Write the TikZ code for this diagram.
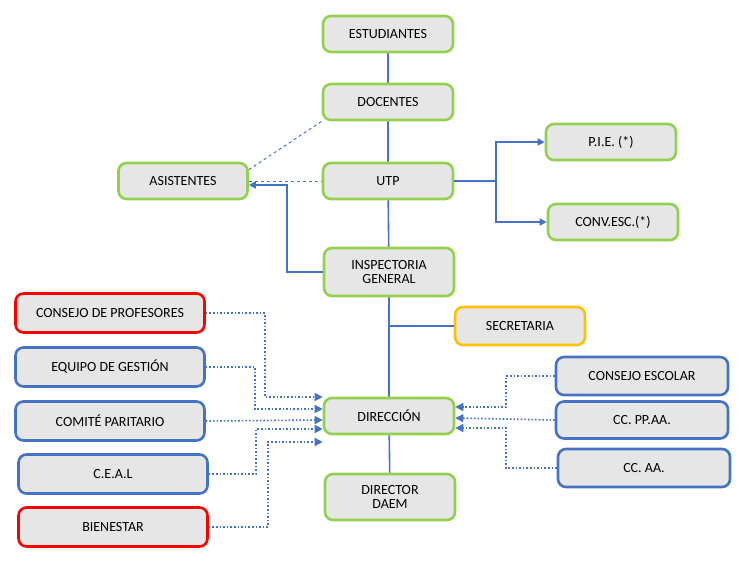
\documentclass[tikz,border=0pt]{standalone}
\usepackage{fontspec}
\setmainfont{Carlito}
\usetikzlibrary{positioning,arrows.meta}
\definecolor{bxgreen}{RGB}{146,208,80}
\definecolor{bxblue}{RGB}{68,114,196}
\definecolor{bxred}{RGB}{255,0,0}
\definecolor{bxgold}{RGB}{255,192,0}
\definecolor{bxfill}{RGB}{231,230,230}
\begin{document}
\begin{tikzpicture}[x=1pt,y=-1pt,
  box/.style={draw, line width=2.6pt, fill=bxfill, rounded corners=8pt, minimum width=130pt, minimum height=36pt, align=center, font=\fontsize{14}{14}\selectfont, inner sep=1pt},
  gbox/.style={box, draw=bxgreen},
  bbox/.style={box, draw=bxblue, minimum width=189pt, minimum height=39pt},
  rbox/.style={box, draw=bxred, minimum width=189pt, minimum height=39pt},
  link/.style={bxblue, line width=1.6pt},
  dlink/.style={bxblue, line width=1.6pt, dotted, -{Triangle[width=8pt,length=8pt]}}]
\useasboundingbox (0,0) rectangle (747,560);

% main column
\node[gbox] (est) at (388,34) {ESTUDIANTES};
\node[gbox] (doc) at (388,102) {DOCENTES};
\node[gbox] (utp) at (388,181) {UTP};
\node[gbox, minimum height=48pt] (insp) at (389,272) {INSPECTORIA\\GENERAL};
\node[gbox] (dir) at (389,416) {DIRECCIÓN};
\node[gbox, minimum height=46pt] (daem) at (390,497) {DIRECTOR\\DAEM};
\node[gbox, minimum width=129pt] (asis) at (183,181) {ASISTENTES};
\node[gbox] (pie) at (611,142) {P.I.E. (*)};
\node[gbox] (conv) at (613,222) {CONV.ESC.(*)};
\node[box, draw=bxgold, minimum height=38pt] (secr) at (520,326) {SECRETARIA};

% left boxes
\node[rbox] (cprof) at (110,313) {CONSEJO DE PROFESORES};
\node[bbox] (equipo) at (110,367) {EQUIPO DE GESTIÓN};
\node[bbox] (comite) at (110,421) {COMITÉ PARITARIO};
\node[bbox] (ceal) at (113,474) {C.E.A.L};
\node[rbox] (bien) at (113,527) {BIENESTAR};

% right boxes
\node[bbox, minimum width=172pt, minimum height=38pt] (cesc) at (642,376) {CONSEJO ESCOLAR};
\node[bbox, minimum width=172pt, minimum height=37pt] (ccpp) at (642,420) {CC. PP.AA.};
\node[bbox, minimum width=172pt, minimum height=38pt] (ccaa) at (644,468) {CC. AA.};

% vertical spine
\draw[link] (est) -- (doc) -- (utp) -- (insp) -- (dir) -- (daem);
\coordinate (sj) at (insp.south |- secr.west);
\draw[link] (sj) -- (secr.west);

% utp branches
\coordinate (ub) at (496,181);
\draw[link] (utp.east) -- (ub);
\draw[link, -{Triangle[width=7pt,length=7pt]}] (ub) |- (pie.west);
\draw[link, -{Triangle[width=7pt,length=7pt]}] (ub) |- (conv.west);
\draw[link, -{Triangle[width=7pt,length=7pt]}] (insp.west) -| (287,185) -- (asis.east |- 0,185);
\draw[link, dashed, line width=1pt] (asis.north east) ++(0,8) -- (doc.south west);
\draw[link, dashed, line width=1pt] (asis.east) -- (utp.west);

% left dotted connectors
\draw[dlink] (cprof.east) -| (265,397) -- (dir.west |- 0,397);
\draw[dlink] (equipo.east) -| (255,409) -- (dir.west |- 0,409);
\draw[dlink] (comite.east) -- (dir.west |- 0,420);
\draw[dlink] (ceal.east) -| (256,429) -- (dir.west |- 0,429);
\draw[dlink] (bien.east) -| (268,442) -- (dir.west |- 0,442);

% right dotted connectors
\draw[dlink] (cesc.west) -| (506,407) -- (dir.east |- 0,407);
\draw[dlink] (ccpp.west) -- (dir.east |- 0,418);
\draw[dlink] (ccaa.west) -| (506,428) -- (dir.east |- 0,428);
\end{tikzpicture}
\end{document}
